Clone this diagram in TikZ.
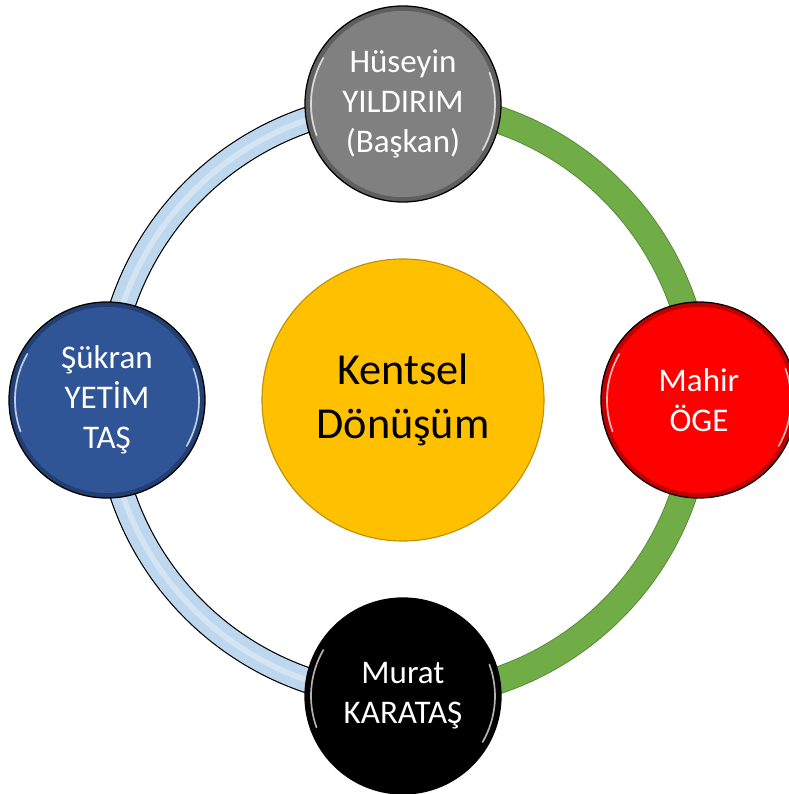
\documentclass[tikz,border=0pt]{standalone}
\usepackage{fontspec}
\setmainfont{Carlito}
\usetikzlibrary{backgrounds}
\definecolor{core}{RGB}{255,192,0}
\definecolor{coreline}{RGB}{191,144,0}
\definecolor{chair}{RGB}{128,128,128}
\definecolor{blueball}{RGB}{47,85,151}
\definecolor{redball}{RGB}{255,0,0}
\definecolor{ringblue}{RGB}{189,215,238}
\definecolor{ringgreen}{RGB}{112,173,71}
\definecolor{ringgreendark}{RGB}{84,130,53}
\newcommand{\ringradius}{7.4}
\tikzset{
  member/.style={circle, draw=black, line width=0.9pt, minimum size=4.9cm, inner sep=0pt,
    text=white, align=center, font=\fontsize{23.5}{28.5}\selectfont,
    path picture={
      \draw[black, opacity=.25, line width=4pt] (path picture bounding box.center) circle (2.4);
      \draw[white, opacity=.7, line width=1.2pt, line cap=round] (path picture bounding box.center) ++(150:2.3) arc[start angle=150, end angle=200, radius=2.3];
      \draw[white, opacity=.7, line width=1.2pt, line cap=round] (path picture bounding box.center) ++(-30:2.3) arc[start angle=-30, end angle=20, radius=2.3];
    }},
  ringpart/.style={line width=18.5pt},
}

\begin{document}
\begin{tikzpicture}
\useasboundingbox (-10.075,-9.85) rectangle (9.65,10.0);
% center
\node[circle, fill=core, draw=coreline, line width=0.8pt, minimum size=7.05cm, align=center,
  font=\fontsize{31.5}{38}\selectfont] (kentsel) at (0,0) {Kentsel\\Dönüşüm};
% members
\node[member, fill=chair] (huseyin) at (90:\ringradius) {Hüseyin\\YILDIRIM\\(Başkan)};
\node[member, fill=redball] (mahir) at (0:\ringradius) {Mahir\\ÖGE};
\node[member, fill=black] (murat) at (270:\ringradius) {Murat\\KARATAŞ};
\node[member, fill=blueball] (sukran) at (180:\ringradius) {Şükran\\YETİM\\TAŞ};
% ring
\begin{scope}[on background layer]
  \draw[ringpart, black] (huseyin.center) arc[start angle=90, end angle=270, radius=\ringradius];
  \draw[ringpart, line width=16.8pt, ringblue] (huseyin.center) arc[start angle=90, end angle=270, radius=\ringradius];
  \draw[white, opacity=.35, line width=4pt] (huseyin.center) arc[start angle=90, end angle=270, radius=\ringradius];
  \draw[ringpart, line width=19.5pt, ringgreendark] (murat.center) arc[start angle=-90, end angle=90, radius=\ringradius];
  \draw[ringpart, line width=18.3pt, ringgreen] (murat.center) arc[start angle=-90, end angle=90, radius=\ringradius];
\end{scope}
\end{tikzpicture}
\end{document}
